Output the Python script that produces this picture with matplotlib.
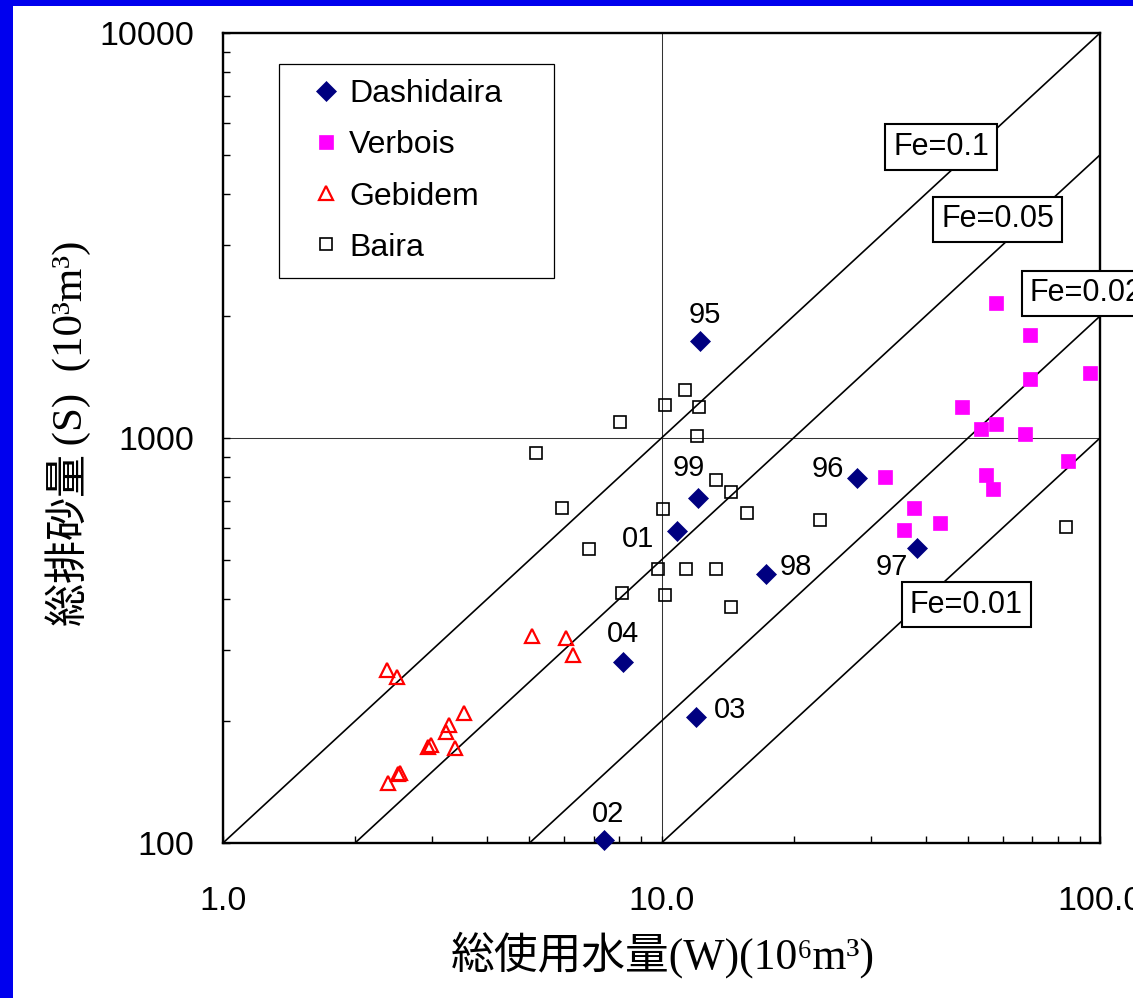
import matplotlib
matplotlib.use("Agg")
import matplotlib.pyplot as plt
from matplotlib.patches import Rectangle
from matplotlib.lines import Line2D
from matplotlib.ticker import FixedLocator, LogLocator, NullFormatter

# ---- data: total water used W (10^6 m3) vs total flushed sediment S (10^3 m3)
dash_year = ["95", "99", "01", "96", "98", "97", "04", "03", "02"]
dash_w = [12.26, 12.13, 10.83, 27.96, 17.31, 38.31, 8.18, 11.98, 7.39]
dash_s = [1736, 712, 590, 795, 461, 534, 280, 205, 102]

verbois_w = [57.9, 69.1, 69.1, 94.7, 48.5, 53.6, 57.8, 67.3, 84.5,
             32.3, 55.0, 57.1, 37.6, 43.2, 35.8]
verbois_s = [2150, 1796, 1401, 1444, 1191, 1052, 1083, 1025, 879,
             801, 812, 748, 671, 617, 593]

gebidem_w = [2.36, 2.50, 5.07, 6.05, 6.29, 3.55, 3.27, 3.23, 2.98,
             2.94, 3.39, 2.53, 2.51, 2.38]
gebidem_s = [268, 257, 324, 320, 291, 210, 196, 188, 175,
             173, 172, 149, 148, 141]

baira_w = [5.17, 5.93, 6.82, 8.04, 8.14, 10.2, 10.1, 9.83, 10.2, 11.3,
           12.2, 12.05, 11.4, 13.3, 14.4, 13.3, 15.7, 14.4, 23.0, 83.5]
baira_s = [918, 670, 531, 1095, 415, 1206, 669, 476, 410, 1312,
           1191, 1012, 476, 789, 737, 476, 652, 383, 627, 602]

# flushing efficiency Fe = S / W  (S in 10^3 m3, W in 10^6 m3)
fe_values = [0.1, 0.05, 0.02, 0.01]
fe_text = ["Fe=0.1", "Fe=0.05", "Fe=0.02", "Fe=0.01"]

x_ticks = [1, 10, 100]
x_ticklabels = ["1.0", "10.0", "100.0"]
y_ticks = [100, 1000, 10000]
y_ticklabels = ["100", "1000", "10000"]

series_names = ["Dashidaira", "Verbois", "Gebidem", "Baira"]

# ---- styling
NAVY = "#000080"
MAGENTA = "#FF00FF"
RED = "#FF0000"
BLUE_FRAME = "#0000EE"
SANS = ["Liberation Sans", "DejaVu Sans"]
LABEL_FONT = ["Liberation Serif", "DejaVu Serif", "Noto Sans CJK JP"]

plt.rcParams["font.family"] = SANS

fig = plt.figure(figsize=(11.33, 9.98), dpi=100)
fig.patch.set_facecolor("white")
ax = fig.add_axes([223 / 1133, 1 - 843 / 998, 877 / 1133, 810 / 998])

# blue slide frame on the left and top edges
fig.patches.append(Rectangle((0, 0), 13 / 1133, 1, transform=fig.transFigure,
                             facecolor=BLUE_FRAME, edgecolor="none", zorder=0))
fig.patches.append(Rectangle((0, 1 - 6 / 998), 1, 6 / 998, transform=fig.transFigure,
                             facecolor=BLUE_FRAME, edgecolor="none", zorder=0))

ax.set_xscale("log")
ax.set_yscale("log")
ax.set_xlim(1, 100)
ax.set_ylim(100, 10000)

# reference lines of constant Fe, from S = 100 up to W = 100
w_max = 100
for fe in fe_values:
    w0 = 0.1 / fe
    ax.plot([w0, w_max], [1000 * fe * w0, 1000 * fe * w_max],
            color="black", lw=1.2, zorder=2, solid_capstyle="butt")

# Fe label boxes sitting on the lines
fe_label_pos = [(43.4, 5230, "center"), (58.4, 3464, "center"),
                (69.2, 2274, "left"), (49.6, 388, "center")]
for txt, (lx, ly, ha) in zip(fe_text, fe_label_pos):
    ax.text(lx, ly, txt, ha=ha, va="center", fontsize=22, family=SANS,
            zorder=6, clip_on=False,
            bbox=dict(boxstyle="square,pad=0.25", facecolor="white",
                      edgecolor="black", linewidth=1.5))

# data series
ax.plot(baira_w, baira_s, linestyle="none", marker="s", ms=8.2,
        mfc="none", mec="black", mew=1.2, zorder=3, clip_on=False)
ax.plot(gebidem_w, gebidem_s, linestyle="none", marker="^", ms=10.5,
        mfc="none", mec=RED, mew=1.6, zorder=3, clip_on=False)
ax.plot(verbois_w, verbois_s, linestyle="none", marker="s", ms=9.6,
        mfc=MAGENTA, mec=MAGENTA, mew=0.5, zorder=4, clip_on=False)
ax.plot(dash_w, dash_s, linestyle="none", marker="D", ms=10.6,
        mfc=NAVY, mec=NAVY, mew=0.5, zorder=5, clip_on=False)

# year labels for Dashidaira (offsets in points)
year_offsets = {"95": (3.4, 18.7), "99": (-7.2, 21.2), "01": (-27.6, -6),
                "96": (-21.3, 6.7), "98": (21.5, 5), "97": (-18.4, -13.7),
                "04": (0, 20.4), "03": (24.5, 4.8), "02": (3.1, 18.7)}
for yr, w, s in zip(dash_year, dash_w, dash_s):
    ax.annotate(yr, (w, s), xytext=year_offsets[yr], textcoords="offset points",
                ha="center", va="center", fontsize=21, family=SANS, zorder=7)

# axes styling
for sp in ax.spines.values():
    sp.set_linewidth(1.7)
    sp.set_color("black")

ax.xaxis.set_major_locator(FixedLocator(x_ticks))
ax.set_xticklabels(x_ticklabels)
ax.yaxis.set_major_locator(FixedLocator(y_ticks))
ax.set_yticklabels(y_ticklabels)
ax.xaxis.set_minor_locator(LogLocator(base=10, subs=range(2, 10)))
ax.yaxis.set_minor_locator(LogLocator(base=10, subs=range(2, 10)))
ax.xaxis.set_minor_formatter(NullFormatter())
ax.yaxis.set_minor_formatter(NullFormatter())

ax.tick_params(axis="both", which="both", direction="in", length=5, width=1,
               color="black", top=False, right=False)
ax.tick_params(axis="x", which="major", pad=31, labelsize=24.5)
ax.tick_params(axis="y", which="major", pad=21, labelsize=24.5)

ax.grid(True, which="major", color="#333333", lw=0.75, zorder=1)
ax.set_axisbelow(True)

# axis titles
ax.set_xlabel("総使用水量(W)(10⁶m³)", fontsize=31.5, family=LABEL_FONT,
              va="center", ha="center")
ax.xaxis.set_label_coords(0.502, -0.138)
ax.set_ylabel("総排砂量\u2009(S)\u2002(10³m³)", fontsize=31, family=LABEL_FONT,
              va="center", ha="center", rotation=90)
ax.yaxis.set_label_coords(-0.1765, 0.506)

# legend
handles = [
    Line2D([], [], linestyle="none", marker="D", ms=10.6, mfc=NAVY, mec=NAVY, mew=0.5),
    Line2D([], [], linestyle="none", marker="s", ms=9.6, mfc=MAGENTA, mec=MAGENTA, mew=0.5),
    Line2D([], [], linestyle="none", marker="^", ms=10.5, mfc="none", mec=RED, mew=1.6),
    Line2D([], [], linestyle="none", marker="s", ms=8.2, mfc="none", mec="black", mew=1.2),
]
leg = ax.legend(handles, series_names, loc="upper left",
                bbox_to_anchor=(0.0639, 0.9617 - 0.258, 0.3136, 0.258),
                mode="expand", borderaxespad=0, borderpad=0.48,
                handlelength=1.96, handletextpad=-0.25, labelspacing=0.66,
                fancybox=False, shadow=False, framealpha=1,
                prop=dict(family=SANS, size=23))
leg.get_frame().set_edgecolor("black")
leg.get_frame().set_linewidth(0.9)
leg.set_zorder(8)

fig.savefig("out.png", dpi=100, facecolor="white")
